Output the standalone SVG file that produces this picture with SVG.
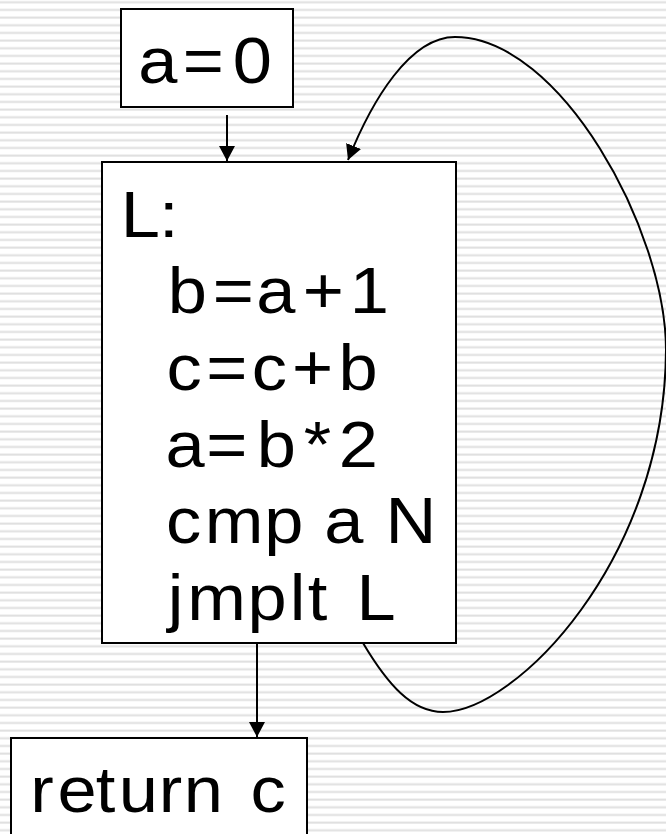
<svg xmlns="http://www.w3.org/2000/svg" width="666" height="834" viewBox="0 0 666 834">
<defs>
<pattern id="stripes" patternUnits="userSpaceOnUse" width="666" height="7.667" y="0.7">
<rect x="0" y="0" width="666" height="7.667" fill="#ffffff"/>
<rect x="0" y="0.3" width="666" height="0.8" fill="#ececec"/>
<rect x="0" y="1.1" width="666" height="1.4" fill="#dcdcdc"/>
</pattern>
<marker id="arrow" markerUnits="userSpaceOnUse" markerWidth="16" markerHeight="16" refX="15" refY="8" orient="auto">
<path d="M0,0 L15,8 L0,16 Z" fill="#000"/>
</marker>
</defs>
<style>
.box{fill:#fff;stroke:#000;stroke-width:2}
.t{font-family:"Liberation Sans",Arial,sans-serif;font-size:64px;fill:#000}
.edge{fill:none;stroke:#000;stroke-width:2}
</style>
<rect x="0" y="0" width="666" height="834" fill="url(#stripes)"/>
<g id="connectors">
<line class="edge" x1="227" y1="115" x2="227" y2="161" marker-end="url(#arrow)"/>
<line class="edge" x1="257" y1="644" x2="257" y2="737" marker-end="url(#arrow)"/>
<path class="edge" d="M363,643 C388,685 412,712 443,712 C515,712 665,560 666,350 C666,230 560,37 455,37 C410,37 372,100 348,160" marker-end="url(#arrow)"/>
</g>
<g id="node-a0">
<rect class="box" x="121" y="9" width="172" height="98"/>
<text class="t" transform="scale(1.1 1)" x="125.8 166.2 211.7" y="83">a=0</text>
</g>
<g id="node-L">
<rect class="box" x="102" y="162" width="354" height="481"/>
<text class="t" transform="scale(1.1 1)" x="109.8 144.5" y="237">L:</text>
<text class="t" transform="scale(1.1 1)" x="152.5 193.5 232.9 275.3 318" y="313.5">b=a+1</text>
<text class="t" transform="scale(1.1 1)" x="151.3 187.4 228.8 265.4 307.7" y="390">c=c+b</text>
<text class="t" transform="scale(1.1 1)" x="150.4 187.4 233.5 276.1 307.9" y="466.7">a=b*2</text>
<text class="t" transform="scale(1.1 1)" x="150.8 186.2 240.3 275.9 294.7 330.3 350.4" y="543">cmp a N</text>
<text class="t" transform="scale(1.1 1)" x="152.5 170.3 225.1 263.4 279.8 297.6 324.1" y="620">jmplt L</text>
</g>
<g id="node-return">
<rect class="box" x="11" y="738" width="296" height="120"/>
<text class="t" transform="scale(1.1 1)" x="27.6 52.3 87.1 107.9 144.3 167 202.6 227.8" y="811.7">return c</text>
</g>
</svg>
